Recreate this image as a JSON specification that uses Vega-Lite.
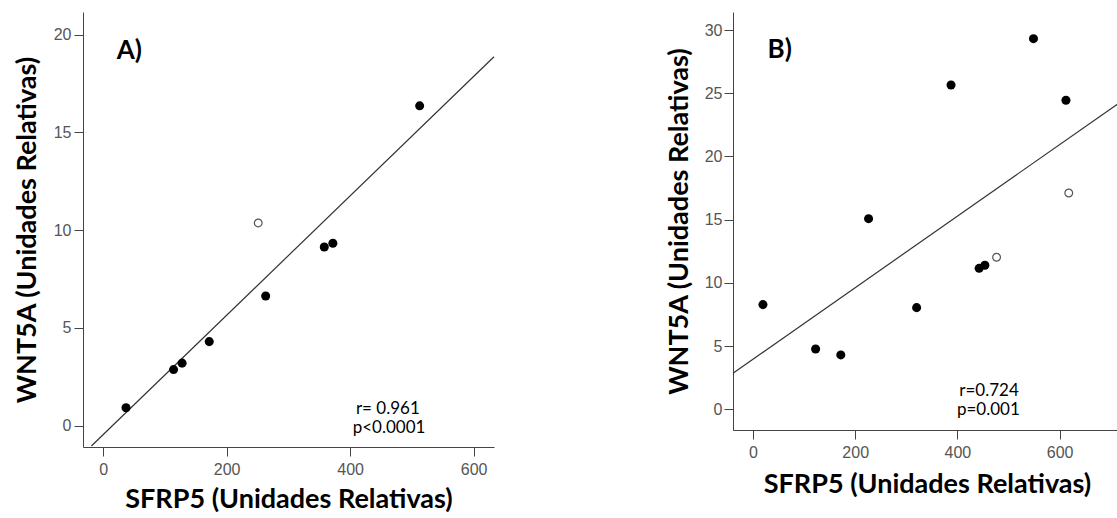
{
  "$schema": "https://vega.github.io/schema/vega-lite/v6.json",
  "padding": {"left": 13, "top": 12, "right": 0, "bottom": 0},
  "spacing": 168,
  "background": "white",
  "config": {
    "view": {"stroke": null},
    "axis": {
      "grid": false,
      "domainColor": "#444",
      "tickColor": "#444",
      "tickSize": 9,
      "labelFont": "Liberation Sans",
      "labelFontSize": 16,
      "labelColor": "#555",
      "labelFlush": false,
      "titleFont": "Lato",
      "titleFontSize": 27,
      "titleFontWeight": "bold",
      "titleColor": "#000"
    }
  },
  "datasets": {
    "a_pts": [
      {"x": 37, "y": 0.92, "grupo": "lleno"},
      {"x": 114, "y": 2.87, "grupo": "lleno"},
      {"x": 127.8, "y": 3.2, "grupo": "lleno"},
      {"x": 171.8, "y": 4.3, "grupo": "lleno"},
      {"x": 263.2, "y": 6.63, "grupo": "lleno"},
      {"x": 358.1, "y": 9.14, "grupo": "lleno"},
      {"x": 372, "y": 9.33, "grupo": "lleno"},
      {"x": 512.6, "y": 16.36, "grupo": "lleno"},
      {"x": 251.1, "y": 10.37, "grupo": "abierto"}
    ],
    "a_fit": [
      {"x": -19.1, "y": -1.04},
      {"x": 633, "y": 18.87}
    ],
    "a_txt": [
      {"x": 42.3, "y": 19.19, "label": "A)", "kind": "panel"},
      {"x": 461, "y": 0.87, "label": "r= 0.961", "kind": "stat"},
      {"x": 463, "y": -0.12, "label": "p<0.0001", "kind": "stat"}
    ],
    "b_pts": [
      {"x": 19.6, "y": 8.28, "grupo": "lleno"},
      {"x": 122.6, "y": 4.77, "grupo": "lleno"},
      {"x": 171.9, "y": 4.3, "grupo": "lleno"},
      {"x": 226.2, "y": 15.08, "grupo": "lleno"},
      {"x": 320.2, "y": 8.04, "grupo": "lleno"},
      {"x": 387.5, "y": 25.66, "grupo": "lleno"},
      {"x": 442.5, "y": 11.15, "grupo": "lleno"},
      {"x": 453.7, "y": 11.39, "grupo": "lleno"},
      {"x": 548.8, "y": 29.32, "grupo": "lleno"},
      {"x": 612.3, "y": 24.45, "grupo": "lleno"},
      {"x": 476.6, "y": 12.03, "grupo": "abierto"},
      {"x": 617.8, "y": 17.11, "grupo": "abierto"}
    ],
    "b_fit": [
      {"x": -39, "y": 2.85},
      {"x": 720, "y": 24.34}
    ],
    "b_txt": [
      {"x": 52.3, "y": 28.43, "label": "B)", "kind": "panel"},
      {"x": 461.9, "y": 1.47, "label": "r=0.724", "kind": "stat"},
      {"x": 460.6, "y": -0.06, "label": "p=0.001", "kind": "stat"}
    ]
  },
  "hconcat": [
    {
      "width": 411,
      "height": 435,
      "encoding": {
        "x": {
          "field": "x", "type": "quantitative",
          "scale": {"domain": [-32.7, 633], "nice": false, "zero": false},
          "axis": {"title": "SFRP5 (Unidades Relativas)", "values": [0, 200, 400, 600], "labelPadding": 5, "titlePadding": 9}
        },
        "y": {
          "field": "y", "type": "quantitative",
          "scale": {"domain": [-1.09, 21.16], "nice": false, "zero": false},
          "axis": {"title": "WNT5A (Unidades Relativas)", "values": [0, 5, 10, 15, 20], "labelPadding": 3, "titlePadding": 12}
        }
      },
      "layer": [
        {
          "data": {"name": "a_fit"},
          "mark": {"type": "line", "color": "#333", "strokeWidth": 1.2}
        },
        {
          "data": {"name": "a_pts"},
          "transform": [{"filter": "datum.grupo === 'lleno'"}],
          "mark": {"type": "circle", "size": 82, "color": "#000", "opacity": 1}
        },
        {
          "data": {"name": "a_pts"},
          "transform": [{"filter": "datum.grupo === 'abierto'"}],
          "mark": {"type": "point", "shape": "circle", "filled": false, "size": 60, "stroke": "#555", "strokeWidth": 1.2, "opacity": 1}
        },
        {
          "data": {"name": "a_txt"},
          "transform": [{"filter": "datum.kind === 'panel'"}],
          "mark": {"type": "text", "font": "Lato", "fontWeight": "bold", "fontSize": 26, "align": "center", "baseline": "middle", "color": "#000"},
          "encoding": {"text": {"field": "label"}}
        },
        {
          "data": {"name": "a_txt"},
          "transform": [{"filter": "datum.kind === 'stat'"}],
          "mark": {"type": "text", "font": "Lato", "fontSize": 17, "align": "center", "baseline": "middle", "color": "#000"},
          "encoding": {"text": {"field": "label"}}
        }
      ]
    },
    {
      "width": 388,
      "height": 418,
      "encoding": {
        "x": {
          "field": "x", "type": "quantitative",
          "scale": {"domain": [-39, 720], "nice": false, "zero": false},
          "axis": {"title": "SFRP5 (Unidades Relativas)", "values": [0, 200, 400, 600], "labelPadding": 5, "titlePadding": 11}
        },
        "y": {
          "field": "y", "type": "quantitative",
          "scale": {"domain": [-1.64, 31.43], "nice": false, "zero": false},
          "axis": {"title": "WNT5A (Unidades Relativas)", "values": [0, 5, 10, 15, 20, 25, 30], "labelPadding": 2, "titlePadding": 11}
        }
      },
      "layer": [
        {
          "data": {"name": "b_fit"},
          "mark": {"type": "line", "color": "#333", "strokeWidth": 1.2}
        },
        {
          "data": {"name": "b_pts"},
          "transform": [{"filter": "datum.grupo === 'lleno'"}],
          "mark": {"type": "circle", "size": 82, "color": "#000", "opacity": 1}
        },
        {
          "data": {"name": "b_pts"},
          "transform": [{"filter": "datum.grupo === 'abierto'"}],
          "mark": {"type": "point", "shape": "circle", "filled": false, "size": 60, "stroke": "#555", "strokeWidth": 1.2, "opacity": 1}
        },
        {
          "data": {"name": "b_txt"},
          "transform": [{"filter": "datum.kind === 'panel'"}],
          "mark": {"type": "text", "font": "Lato", "fontWeight": "bold", "fontSize": 26, "align": "center", "baseline": "middle", "color": "#000"},
          "encoding": {"text": {"field": "label"}}
        },
        {
          "data": {"name": "b_txt"},
          "transform": [{"filter": "datum.kind === 'stat'"}],
          "mark": {"type": "text", "font": "Lato", "fontSize": 17, "align": "center", "baseline": "middle", "color": "#000"},
          "encoding": {"text": {"field": "label"}}
        }
      ]
    }
  ]
}
